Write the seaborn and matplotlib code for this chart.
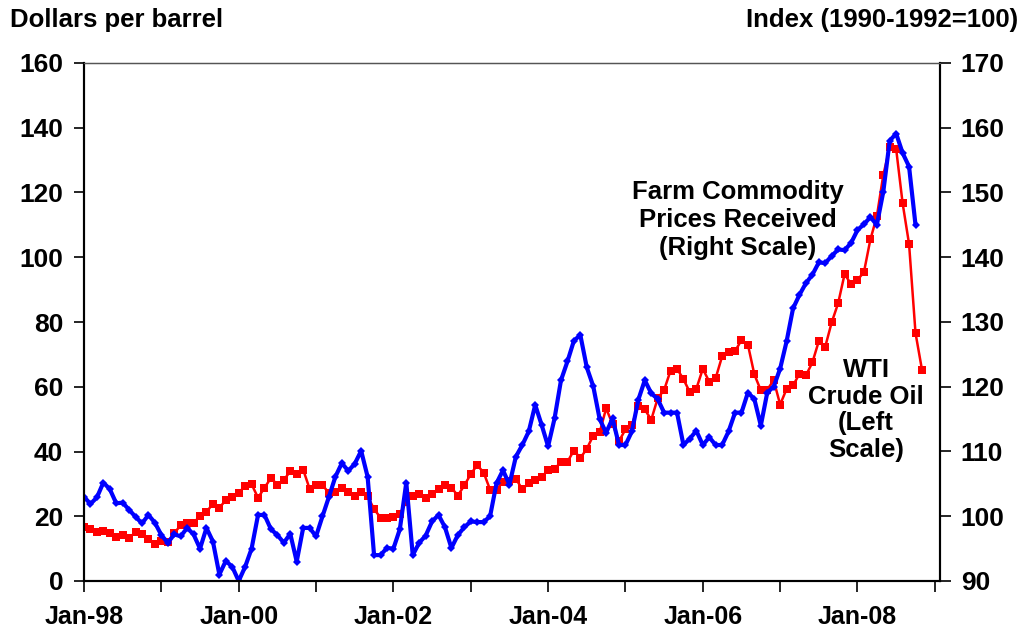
import numpy as np
import pandas as pd
import seaborn as sns
import matplotlib.pyplot as plt

# WTI crude oil, dollars per barrel, monthly Jan-98 .. Nov-08
wti = [16.7, 16.1, 15.0, 15.4, 14.9, 13.7, 14.1, 13.4, 15.0, 14.4, 12.9, 11.3,
       12.5, 12.0, 14.7, 17.3, 17.8, 17.9, 20.1, 21.3, 23.9, 22.6, 25.0, 26.1,
       27.2, 29.4, 29.9, 25.7, 28.8, 31.8, 29.8, 31.2, 33.9, 33.1, 34.4, 28.5,
       29.6, 29.6, 27.2, 27.5, 28.6, 27.6, 26.4, 27.4, 26.2, 22.2, 19.6, 19.4,
       19.7, 20.7, 24.5, 26.2, 27.0, 25.5, 27.0, 28.4, 29.7, 28.8, 26.4, 29.5,
       33.0, 35.8, 33.5, 28.2, 28.1, 30.7, 30.8, 31.6, 28.3, 30.3, 31.1, 32.1,
       34.3, 34.7, 36.7, 36.8, 40.3, 38.0, 40.8, 44.9, 45.9, 53.3, 48.5, 43.2,
       46.8, 48.2, 54.2, 53.0, 49.8, 56.4, 59.0, 65.0, 65.6, 62.3, 58.3, 59.4,
       65.5, 61.6, 62.7, 69.4, 70.8, 71.0, 74.4, 73.0, 63.8, 58.9, 59.1, 62.0,
       54.5, 59.3, 60.4, 64.0, 63.5, 67.5, 74.1, 72.4, 79.9, 85.8, 94.8, 91.7,
       93.0, 95.4, 105.5, 112.6, 125.4, 133.9, 133.4, 116.7, 104.1, 76.6, 65.3]

# Farm commodity prices received, index 1990-1992=100, monthly Jan-98 .. Oct-08
farm = [103.0, 101.9, 102.9, 105.2, 104.2, 102.0, 102.1, 101.0, 99.9, 98.9, 100.2, 99.0,
        97.1, 95.9, 97.2, 96.9, 98.2, 97.2, 95.0, 98.2, 96.1, 91.0, 93.1, 92.2,
        90.0, 92.2, 95.0, 100.2, 100.2, 98.0, 97.1, 95.9, 97.3, 93.0, 98.2, 98.2,
        96.9, 100.0, 103.0, 106.1, 108.2, 107.0, 108.1, 110.1, 106.1, 94.0, 94.0, 95.1,
        95.0, 98.0, 105.2, 94.0, 95.9, 97.0, 99.2, 100.2, 98.3, 95.1, 97.1, 98.3,
        99.2, 99.1, 99.1, 100.0, 105.1, 107.1, 104.9, 109.2, 111.0, 113.1, 117.2, 114.1,
        110.8, 115.1, 121.0, 123.9, 127.1, 128.0, 123.0, 120.1, 115.0, 112.9, 115.1, 111.0,
        111.0, 113.1, 118.0, 121.0, 119.0, 118.1, 116.0, 116.0, 116.0, 111.0, 112.0, 113.2,
        111.0, 112.2, 111.0, 111.0, 113.1, 116.0, 116.0, 119.1, 118.1, 114.0, 119.1, 120.0,
        122.8, 127.0, 132.1, 134.2, 136.0, 137.3, 139.2, 139.1, 140.2, 141.2, 141.1, 142.2,
        144.2, 145.1, 146.2, 145.0, 150.1, 158.0, 159.1, 156.1, 154.0, 145.0]

year_labels = ['Jan-98', '', 'Jan-00', '', 'Jan-02', '', 'Jan-04', '',
               'Jan-06', '', 'Jan-08', '']

df_wti = pd.DataFrame({'month': np.arange(len(wti)), 'value': wti})
df_farm = pd.DataFrame({'month': np.arange(len(farm)), 'value': farm})

sns.set_theme(style='ticks')
plt.rcParams['font.family'] = ['Liberation Sans', 'DejaVu Sans']
plt.rcParams['font.weight'] = 'bold'
plt.rcParams['text.color'] = 'black'
plt.rcParams['xtick.color'] = 'black'
plt.rcParams['ytick.color'] = 'black'

fig = plt.figure(figsize=(10.26, 6.33), dpi=100)
ax = fig.add_axes([84 / 1026, 1 - 581 / 633, (940 - 84) / 1026, (581 - 63) / 633])

sns.lineplot(data=df_wti, x='month', y='value', ax=ax, color='#ff0000',
             linewidth=1.8, marker='s', markersize=6.3, markeredgewidth=0)
ax.set_ylim(0, 160)
ax.set_yticks(range(0, 161, 20))
ax.set_xlim(0, 132.8)
ax.set_xticks(range(0, 133, 12))
ax.set_xticklabels(year_labels)
ax.set_xlabel('')
ax.set_ylabel('')

ax2 = ax.twinx()
sns.lineplot(data=df_farm, x='month', y='value', ax=ax2, color='#0000ff',
             linewidth=3, marker='D', markersize=4, markeredgewidth=0)
ax2.set_ylim(90, 170)
ax2.set_yticks(range(90, 171, 10))
ax2.set_ylabel('')
ax2.set_xlim(0, 132.8)

for a in (ax, ax2):
    for s in ('left', 'right', 'bottom'):
        a.spines[s].set_color('black')
        a.spines[s].set_linewidth(1.5)
    a.spines['top'].set_color('#555555')
    a.spines['top'].set_linewidth(0.9)

ax.tick_params(axis='x', length=8, width=1.2, pad=9, labelsize=18)
ax.tick_params(axis='y', length=7, width=1.2, pad=8, labelsize=19)
ax2.tick_params(axis='y', length=8, width=1.2, pad=7, labelsize=19)
for lab in ax.get_xticklabels() + ax.get_yticklabels() + ax2.get_yticklabels():
    lab.set_fontweight('bold')
    lab.set_color('black')

fig.text(10 / 1026, 1 - 20 / 633, 'Dollars per barrel', fontsize=18.5,
         fontweight='bold', ha='left', va='center')
fig.text(1018 / 1026, 1 - 20 / 633, 'Index (1990-1992=100)', fontsize=18.5,
         fontweight='bold', ha='right', va='center')

fig.text(738 / 1026, 1 - 220 / 633, 'Farm Commodity\nPrices Received\n(Right Scale)',
         ha='center', va='center', fontsize=18.5, fontweight='bold',
         linespacing=1.2)
fig.text(866 / 1026, 1 - 410 / 633, 'WTI\nCrude Oil\n(Left\nScale)',
         ha='center', va='center', fontsize=18.5, fontweight='bold',
         linespacing=1.15)

fig.savefig('out.png', dpi=100)
